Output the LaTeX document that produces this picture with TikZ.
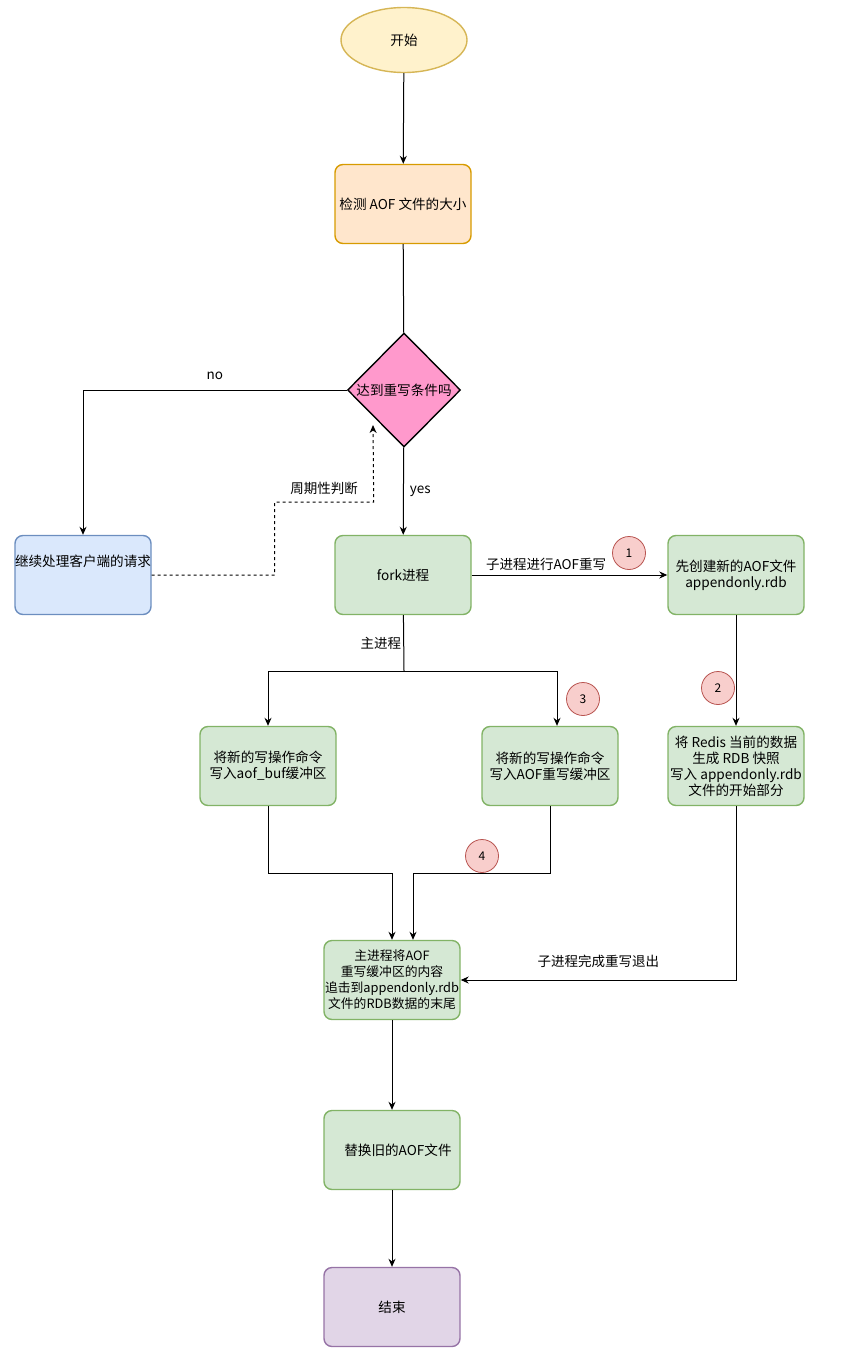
\documentclass[tikz,border=0pt]{standalone}
\usepackage{fontspec}
\setmainfont{Noto Sans CJK SC}
\usetikzlibrary{shapes.geometric,arrows.meta}
\definecolor{startfill}{HTML}{FFF2CC}
\definecolor{startline}{HTML}{D6B656}
\definecolor{checkfill}{HTML}{FFE6CC}
\definecolor{checkline}{HTML}{D79B00}
\definecolor{condfill}{HTML}{FF99CC}
\definecolor{bluefill}{HTML}{DAE8FC}
\definecolor{blueline}{HTML}{6C8EBF}
\definecolor{greenfill}{HTML}{D5E8D4}
\definecolor{greenline}{HTML}{82B366}
\definecolor{redfill}{HTML}{F8CECC}
\definecolor{redline}{HTML}{B85450}
\definecolor{endfill}{HTML}{E1D5E7}
\definecolor{endline}{HTML}{9673A6}
\begin{document}
\begin{tikzpicture}[x=1pt,y=-1pt,
                    font=\fontsize{13.6}{16}\selectfont,
                    box/.style={draw, rounded corners=8pt, line width=1.4pt,
                                minimum width=136pt, minimum height=79pt,
                                align=center, inner sep=0pt},
                    greenbox/.style={box, draw=greenline, fill=greenfill},
                    num/.style={circle, draw=redline, fill=redfill, line width=0.8pt,
                                minimum size=33pt, inner sep=0pt,
                                font=\fontsize{12}{14}\selectfont},
                    arr/.style={-{Stealth[length=8pt,width=7pt]}, line width=1pt},
                    lbl/.style={font=\fontsize{13.5}{15}\selectfont, inner sep=2pt}]
                    \useasboundingbox (0,0) rectangle (854,1362);
                    % nodes
                    \node[ellipse, draw=startline, fill=startfill, line width=1.4pt,
                          minimum width=126pt, minimum height=65pt] (start) at (404,40) {开始};
                    \node[box, draw=checkline, fill=checkfill] (check) at (403,204) {检测 AOF 文件的大小};
                    \node[diamond, draw, fill=condfill, line width=1.4pt, inner sep=0pt,
                          minimum width=113pt, minimum height=114pt,
                          label=center:达到重写条件吗] (cond) at (404,390) {};
                    \node[box, draw=blueline, fill=bluefill] (client) at (83,575) {继续处理客户端的请求\\[12pt]};
                    \node[greenbox] (fork) at (403,575) {fork进程};
                    \node[greenbox] (newaof) at (736,575) {先创建新的AOF文件\\appendonly.rdb};
                    \node[greenbox] (bufnode) at (268,766) {将新的写操作命令\\写入aof\_buf缓冲区};
                    \node[greenbox] (rewbuf) at (550,766) {将新的写操作命令\\写入AOF重写缓冲区};
                    \node[greenbox] (redisrdb) at (736,766) {将 Redis 当前的数据\\生成 RDB 快照\\写入 appendonly.rdb\\文件的开始部分};
                    \node[greenbox, font=\fontsize{12.8}{16}\selectfont] (append) at (392,980) {主进程将AOF\\重写缓冲区的内容\\追击到appendonly.rdb\\文件的RDB数据的末尾};
                    \node[greenbox] (replace) at (392,1150) {\hspace{12pt}替换旧的AOF文件};
                    \node[box, draw=endline, fill=endfill] (finish) at (392,1307) {结束};
                    % step numbers
                    \node[num] (n1) at (629,553) {1};
                    \node[num] (n2) at (718,688) {2};
                    \node[num] (n3) at (583,699) {3};
                    \node[num] (n4) at (482,856) {4};
                    % connectors
                    \coordinate (split) at (404,671);
                    \coordinate (poll) at (373,425);
                    \draw[arr] (start) -- (check);
                    \draw[line width=1pt] (check) -- (cond);
                    \draw[arr] (cond.west) -| (client) node[lbl, pos=0.25, above=8pt] {no};
                    \draw[arr, dash pattern=on 3pt off 3pt] (client.east) -- ++(123,0) -- ++(0,-73)
                        -- node[lbl, midway, above=5pt] {周期性判断} ++(99,0) -- (poll);
                    \draw[arr] (cond) -- (fork) node[lbl, midway, right=4pt] {yes};
                    \draw[arr] (fork) -- (newaof) node[lbl, pos=0.38, above=2pt] {子进程进行AOF重写};
                    \draw[line width=1pt] (fork) -- (split) node[lbl, midway, left=0pt] {主进程};
                    \draw[arr] (split) -| (bufnode);
                    \draw[arr] (split) -| ([xshift=7pt]rewbuf.north);
                    \draw[arr] (newaof) -- (redisrdb);
                    \draw[arr] (bufnode.south) -- ++(0,67) -| (append.north);
                    \draw[arr] (rewbuf.south) -- ++(0,67) -| ([xshift=21pt]append.north);
                    \draw[arr] (redisrdb.south) |- (append.east)
                        node[lbl, pos=0.75, above=10pt] {子进程完成重写退出};
                    \draw[arr] (append) -- (replace);
                    \draw[arr] (replace) -- (finish);
                    \end{tikzpicture}
\end{document}
